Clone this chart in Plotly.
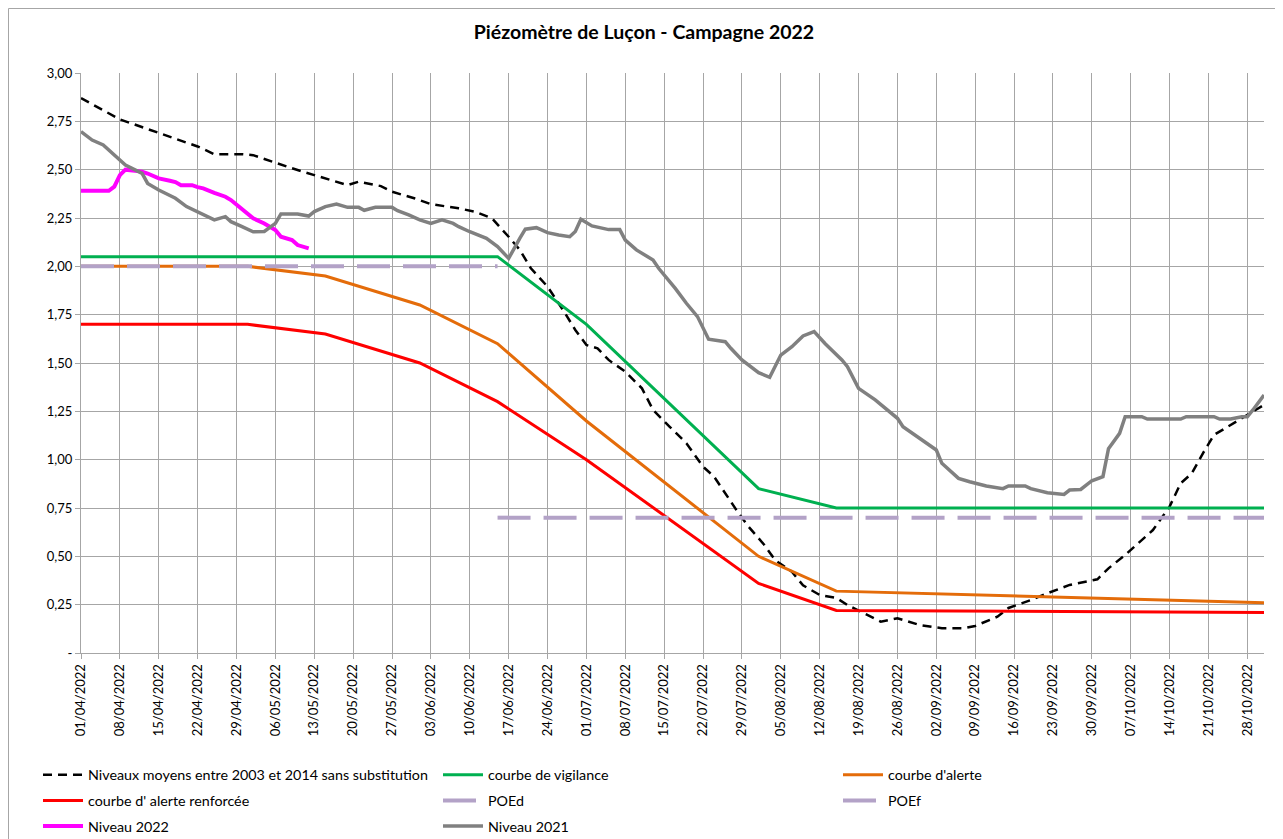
import plotly.graph_objects as go
from datetime import date, timedelta

# ---------------- DATA ----------------
dates_moyens = ["2022-04-01","2022-04-08","2022-04-15","2022-04-19","2022-04-22","2022-04-25","2022-04-30",
    "2022-05-02","2022-05-06","2022-05-09","2022-05-13","2022-05-16","2022-05-19","2022-05-21","2022-05-25",
    "2022-05-27","2022-05-31","2022-06-03","2022-06-08","2022-06-11","2022-06-14","2022-06-17","2022-06-19",
    "2022-06-21","2022-06-24","2022-06-27","2022-06-29","2022-07-01","2022-07-03","2022-07-05","2022-07-08",
    "2022-07-11","2022-07-13","2022-07-16","2022-07-19","2022-07-22","2022-07-24","2022-07-28","2022-07-30",
    "2022-08-02","2022-08-04","2022-08-07","2022-08-09","2022-08-12","2022-08-15","2022-08-17","2022-08-23",
    "2022-08-26","2022-08-30","2022-09-03","2022-09-07","2022-09-09","2022-09-13","2022-09-15","2022-09-19",
    "2022-09-22","2022-09-26","2022-10-01","2022-10-03","2022-10-06","2022-10-09","2022-10-11","2022-10-14",
    "2022-10-16","2022-10-18","2022-10-20","2022-10-22","2022-10-25","2022-10-28","2022-10-31"]
niveaux_moyens = [2.87,2.76,2.69,2.65,2.62,2.58,2.58,
    2.575,2.535,2.507,2.472,2.447,2.42,2.438,2.415,
    2.386,2.352,2.322,2.30,2.282,2.248,2.153,2.085,
    1.99,1.895,1.765,1.671,1.593,1.576,1.516,1.455,
    1.369,1.257,1.17,1.085,0.964,0.912,0.74,0.66,
    0.56,0.48,0.42,0.35,0.30,0.285,0.248,0.162,
    0.18,0.145,0.128,0.128,0.14,0.188,0.233,0.274,
    0.309,0.352,0.381,0.438,0.507,0.585,0.636,0.757,
    0.878,0.929,1.033,1.128,1.179,1.231,1.283]

dates_vigilance = ["2022-04-01","2022-06-15","2022-07-01","2022-08-01","2022-08-15","2022-10-31"]
courbe_vigilance = [2.05,2.05,1.70,0.85,0.75,0.75]

dates_alerte = ["2022-04-01","2022-05-01","2022-05-15","2022-06-01","2022-06-15","2022-07-01",
    "2022-08-01","2022-08-15","2022-10-31"]
courbe_alerte = [2.00,2.00,1.95,1.80,1.60,1.20,0.50,0.32,0.26]
courbe_renforcee = [1.70,1.70,1.65,1.50,1.30,1.00,0.36,0.22,0.21]

dates_poed = ["2022-04-01","2022-06-15"]
poed = [2.00,2.00]
dates_poef = ["2022-06-15","2022-10-31"]
poef = [0.70,0.70]

dates_2022 = ["2022-04-01","2022-04-06","2022-04-07","2022-04-08","2022-04-09","2022-04-12","2022-04-13",
    "2022-04-15","2022-04-17","2022-04-18","2022-04-19","2022-04-21","2022-04-22","2022-04-23","2022-04-25",
    "2022-04-27","2022-04-28","2022-04-30","2022-05-01","2022-05-02","2022-05-04","2022-05-06","2022-05-07",
    "2022-05-09","2022-05-10","2022-05-12"]
niveau_2022 = [2.391,2.391,2.412,2.472,2.50,2.49,2.48,
    2.455,2.443,2.436,2.42,2.42,2.41,2.403,2.38,
    2.36,2.343,2.295,2.276,2.248,2.222,2.188,2.153,
    2.136,2.11,2.093]

dates_2021 = ["2022-04-01","2022-04-03","2022-04-05","2022-04-07","2022-04-09","2022-04-12","2022-04-13",
    "2022-04-15","2022-04-18","2022-04-20","2022-04-22","2022-04-25","2022-04-27","2022-04-28","2022-04-30",
    "2022-05-02","2022-05-04","2022-05-06","2022-05-07","2022-05-10","2022-05-12","2022-05-13","2022-05-15",
    "2022-05-17","2022-05-19","2022-05-21","2022-05-22","2022-05-24","2022-05-27","2022-05-28","2022-05-30",
    "2022-06-01","2022-06-03","2022-06-05","2022-06-07","2022-06-08","2022-06-10","2022-06-13","2022-06-15",
    "2022-06-17","2022-06-19","2022-06-20","2022-06-22","2022-06-24","2022-06-26","2022-06-28","2022-06-29",
    "2022-06-30","2022-07-02","2022-07-05","2022-07-07","2022-07-08","2022-07-10","2022-07-13","2022-07-14",
    "2022-07-17","2022-07-19","2022-07-21","2022-07-23","2022-07-26","2022-07-27","2022-07-29","2022-08-01",
    "2022-08-03","2022-08-05","2022-08-07","2022-08-09","2022-08-11","2022-08-13","2022-08-16","2022-08-17",
    "2022-08-19","2022-08-22","2022-08-26","2022-08-27","2022-08-30","2022-09-02","2022-09-03","2022-09-06",
    "2022-09-08","2022-09-11","2022-09-14","2022-09-15","2022-09-18","2022-09-19","2022-09-22","2022-09-25",
    "2022-09-26","2022-09-28","2022-09-30","2022-10-02","2022-10-03","2022-10-05","2022-10-06","2022-10-09",
    "2022-10-10","2022-10-16","2022-10-17","2022-10-22","2022-10-23","2022-10-25","2022-10-27","2022-10-28",
    "2022-10-29","2022-10-31"]
niveau_2021 = [2.697,2.653,2.628,2.576,2.524,2.481,2.429,
    2.395,2.352,2.309,2.283,2.24,2.257,2.231,2.205,
    2.179,2.18,2.222,2.271,2.271,2.26,2.283,2.309,
    2.322,2.305,2.305,2.29,2.305,2.305,2.288,2.266,
    2.24,2.222,2.24,2.222,2.205,2.179,2.145,2.102,
    2.041,2.145,2.192,2.20,2.174,2.162,2.153,2.18,
    2.243,2.209,2.19,2.19,2.136,2.085,2.033,1.99,
    1.886,1.809,1.74,1.623,1.61,1.576,1.516,1.45,
    1.426,1.541,1.584,1.64,1.662,1.60,1.516,1.481,
    1.369,1.309,1.214,1.17,1.11,1.05,0.981,0.903,
    0.886,0.864,0.85,0.864,0.864,0.85,0.829,0.82,
    0.843,0.846,0.891,0.912,1.057,1.136,1.222,1.222,
    1.21,1.21,1.222,1.222,1.21,1.21,1.222,1.222,
    1.257,1.334]

y_tickvals = [0,0.25,0.5,0.75,1.0,1.25,1.5,1.75,2.0,2.25,2.5,2.75,3.0]
y_ticktext = ["-","0,25","0,50","0,75","1,00","1,25","1,50","1,75","2,00","2,25","2,50","2,75","3,00"]

x_start = date(2022, 4, 1)
x_tickvals = [(x_start + timedelta(days=7 * i)).isoformat() for i in range(31)]
x_ticktext = [(x_start + timedelta(days=7 * i)).strftime("%d/%m/%Y") for i in range(31)]

FONT = "Lato"
GRID = "#A6A6A6"

fig = go.Figure()

def add(name, x, y, color, width, dash, legend, group):
    fig.add_trace(go.Scatter(x=x, y=y, mode="lines", name=name,
                             line=dict(color=color, width=width, dash=dash),
                             legend=legend, legendgroup=group, hoverinfo="skip"))

add("Niveaux moyens entre 2003 et 2014 sans substitution", dates_moyens, niveaux_moyens,
    "#000000", 2.5, "9px,6px", "legend", "g1")
add("courbe de vigilance", dates_vigilance, courbe_vigilance, "#00B050", 3, "solid", "legend2", "g2")
add("courbe d'alerte", dates_alerte, courbe_alerte, "#E46C0A", 3, "solid", "legend3", "g3")
add("courbe d' alerte renforcée", dates_alerte, courbe_renforcee, "#FF0000", 3, "solid", "legend", "g4")
add("POEd", dates_poed, poed, "#B3A2C7", 4, "33px,13px", "legend2", "g5")
add("POEf", dates_poef, poef, "#B3A2C7", 4, "33px,13px", "legend3", "g6")
add("Niveau 2022", dates_2022, niveau_2022, "#FF00FF", 4, "solid", "legend", "g7")
add("Niveau 2021", dates_2021, niveau_2021, "#808080", 3.5, "solid", "legend2", "g8")

# page body has an 8px margin: figure sized to fill the rest of the window
OFF = 8
W, H = 1275, 831
L, R, T, B = 73, 19, 65, 186
pw, ph = W - L - R, H - T - B

def px_x(s):  # screen x -> paper
    return (s - OFF - L) / pw

def px_y(s):  # screen y -> paper
    return (H - B - (s - OFF)) / ph

legend_common = dict(orientation="v", xanchor="left", yanchor="top",
                     font=dict(family=FONT, size=14.3, color="#000000"),
                     bgcolor="rgba(0,0,0,0)", tracegroupgap=4, itemwidth=40)

fig.update_layout(
    width=W, height=H,
    margin=dict(l=L, r=R, t=T, b=B, autoexpand=False),
    paper_bgcolor="white", plot_bgcolor="white",
    font=dict(family=FONT, size=13, color="#000000"),
    title=dict(text="<b>Piézomètre de Luçon - Campagne 2022</b>", xref="container",
               x=(644 - OFF) / W, xanchor="center",
               y=1 - (32 - OFF) / H, yanchor="middle",
               font=dict(family=FONT, size=19.5, color="#000000")),
    showlegend=True,
    legend=dict(x=px_x(38), y=px_y(759), **legend_common),
    legend2=dict(x=px_x(438), y=px_y(759), **legend_common),
    legend3=dict(x=px_x(838), y=px_y(759), **legend_common),
    shapes=[dict(type="rect", xref="paper", yref="paper",
                 x0=px_x(8.5), x1=px_x(1281.5), y0=px_y(860), y1=px_y(8.5),
                 line=dict(color="#A6A6A6", width=1), fillcolor="rgba(0,0,0,0)", layer="below")],
)

fig.update_xaxes(type="date", range=["2022-04-01", "2022-10-31"],
                 tickvals=x_tickvals, ticktext=x_ticktext, tickangle=-90,
                 showgrid=True, gridcolor=GRID, gridwidth=1,
                 showline=True, linecolor=GRID, linewidth=1,
                 ticks="outside", ticklen=5, tickcolor=GRID,
                 tickfont=dict(family=FONT, size=13, color="#000000"),
                 zeroline=False, fixedrange=True)
fig.update_yaxes(range=[0, 3], tickvals=y_tickvals, ticktext=y_ticktext,
                 showgrid=True, gridcolor=GRID, gridwidth=1,
                 showline=True, linecolor=GRID, linewidth=1,
                 ticks="outside", ticklen=5, tickcolor=GRID,
                 tickfont=dict(family=FONT, size=13, color="#000000"),
                 zeroline=False, fixedrange=True)

fig.write_html("out.html")
